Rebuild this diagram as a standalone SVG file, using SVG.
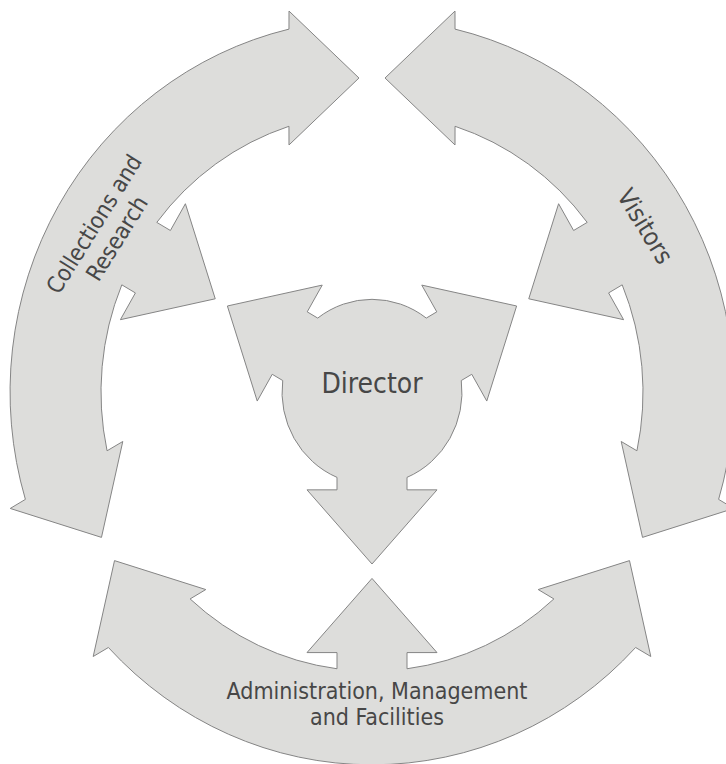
<svg xmlns="http://www.w3.org/2000/svg" xmlns:xlink="http://www.w3.org/1999/xlink" width="726" height="764" viewBox="0 0 726 764">
<style>
.shape{fill:#dddddb;stroke:#858585;stroke-width:1;stroke-linejoin:miter}
.lbl{font-family:"DejaVu Sans Condensed","DejaVu Sans",sans-serif;fill:#474747;text-anchor:middle}
</style>
<defs>
<path id="ringArc" class="shape" vector-effect="non-scaling-stroke" d="M-257.5,163.7 L-278.8,256.8 L-263.6,248.05 A362,362 0 0 0 263.6,248.05 L278.8,256.8 L257.5,163.7 L166.2,191.8 L181.9,200.9 A271,271 0 0 1 35,268.7 L35,253 L65,253 L0,181 L-65,253 L-35,253 L-35,268.7 A271,271 0 0 1 -181.9,200.9 L-166.2,191.8 Z"/>
</defs>
<rect width="726" height="764" fill="#ffffff"/>
<g id="collections">
<use xlink:href="#ringArc" transform="translate(372,392) scale(1,1.03) rotate(120)"/>
<text class="lbl" font-size="23" transform="translate(105,231) rotate(-58)"><tspan x="0" y="-5">Collections and</tspan><tspan x="0" y="22">Research</tspan></text>
</g>
<g id="visitors">
<use xlink:href="#ringArc" transform="translate(372,392) scale(1,1.03) rotate(240)"/>
<text class="lbl" font-size="25" transform="translate(645.5,226) rotate(58.5)"><tspan x="0" y="9">Visitors</tspan></text>
</g>
<g id="admin">
<use xlink:href="#ringArc" transform="translate(372,392) scale(1,1.03)"/>
<text class="lbl" font-size="23"><tspan x="377" y="699">Administration, Management</tspan><tspan x="377" y="725">and Facilities</tspan></text>
</g>
<g id="director">
<path class="shape" vector-effect="non-scaling-stroke" transform="translate(372,392) scale(1,1.03)" d="M35,82.9 L35,95 L65,95 L0,167 L-65,95 L-35,95 L-35,82.9 A90,90 0 0 1 -89.29,-11.14 L-99.77,-17.19 L-114.77,8.79 L-144.62,-83.5 L-49.77,-103.79 L-64.77,-77.81 L-54.29,-71.76 A90,90 0 0 1 54.29,-71.76 L64.77,-77.81 L49.77,-103.79 L144.62,-83.5 L114.77,8.79 L99.77,-17.19 L89.29,-11.14 A90,90 0 0 1 35,82.9 Z"/>
<text class="lbl" font-size="28" x="372" y="393">Director</text>
</g>
<g id="connectors"/>
</svg>
